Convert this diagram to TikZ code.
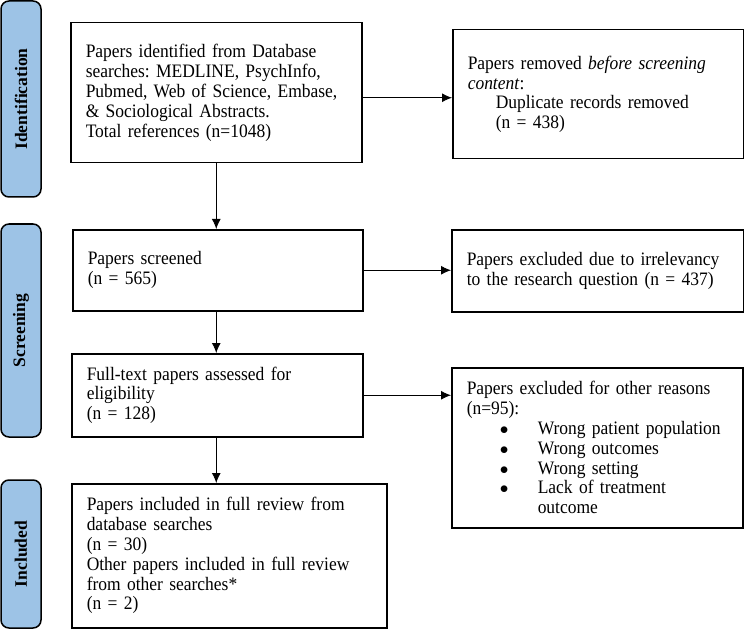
\documentclass[tikz,border=0pt]{standalone}
\usepackage{fontspec}
\setmainfont{Liberation Serif}
\newfontfamily\boxfont[FakeStretch=0.92]{Liberation Serif}
\usetikzlibrary{arrows.meta}
\definecolor{phaseblue}{RGB}{157,195,230}
\tikzset{
  box/.style={draw, line width=1.5pt, anchor=north west, align=left,
              inner xsep=15pt, inner ysep=4pt, font=\boxfont\fontsize{19}{19.8}\selectfont},
  phase/.style={draw, line width=1.5pt, fill=phaseblue, rounded corners=8pt,
                rotate=90, minimum height=40pt, font=\fontsize{17.5}{20}\selectfont\bfseries},
  arr/.style={-{Latex[length=10pt,width=9pt]}, line width=0.9pt}
}
\newcommand{\bpoint}[1]{\hspace*{33pt}\makebox[38pt][l]{$\bullet$}#1}
\frenchspacing

\begin{document}
\begin{tikzpicture}[x=1pt, y=1pt]
\useasboundingbox (0,0) rectangle (744,-631);

\node[phase, minimum width=196pt] (ident) at (21,-99) {Identification};
\node[phase, minimum width=213pt] (screen) at (21,-330.5) {Screening};
\node[phase, minimum width=148pt] (incl) at (21,-554) {Included};

\node[box, text width=261pt, minimum height=140pt] (found) at (70,-22)
    {Papers identified from Database\\
     searches: MEDLINE, PsychInfo,\\
     Pubmed, Web of Science, Embase,\\
     \& Sociological Abstracts.\\
     Total references (n=1048)};
\node[box, text width=261pt, minimum height=129pt] (dupl) at (452,-29)
    {Papers removed \textit{before screening}\\
     \textit{content}:\\
     \hspace*{28pt}Duplicate records removed\\
     \hspace*{28pt}(n = 438)};
\node[box, text width=260pt, minimum height=81pt] (scrn) at (72,-229)
    {Papers screened\\
     (n = 565)};
\node[box, text width=262pt, minimum height=82pt] (irrel) at (451,-229)
    {Papers excluded due to irrelevancy\\
     to the research question (n = 437)};
\node[box, text width=261pt, minimum height=83pt] (full) at (71,-353)
    {Full-text papers assessed for\\
     eligibility\\
     (n = 128)};
\node[box, text width=261pt, minimum height=160pt] (other) at (451,-367)
    {Papers excluded for other reasons\\
     (n=95):\\
     \bpoint{Wrong patient population}\\
     \bpoint{Wrong outcomes}\\
     \bpoint{Wrong setting}\\
     \bpoint{Lack of treatment}\\
     \hspace*{71pt}outcome};
\node[box, text width=285pt, minimum height=144pt] (review) at (71,-483)
    {Papers included in full review from\\
     database searches\\
     (n = 30)\\
     Other papers included in full review\\
     from other searches*\\
     (n = 2)};

\draw[arr] ([yshift=-5pt]found.east) -- ([yshift=-5pt]found.east -| dupl.west);
\draw[arr] (found.south) -- (found.south |- scrn.north);
\draw[arr] (scrn.east) -- (scrn.east -| irrel.west);
\draw[arr] (found.south |- scrn.south) -- (found.south |- full.north);
\draw[arr] (full.east) -- (full.east -| other.west);
\draw[arr] (found.south |- full.south) -- (found.south |- review.north);
\end{tikzpicture}
\end{document}
